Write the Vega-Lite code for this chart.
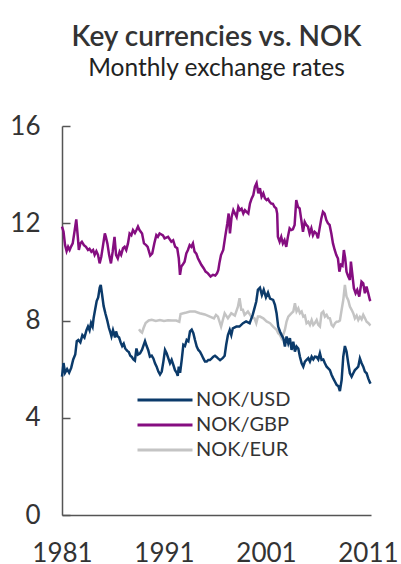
{
  "$schema": "https://vega.github.io/schema/vega-lite/v6.json",
  "width": 309,
  "height": 389,
  "autosize": "none",
  "padding": {"left": 62, "top": 126, "right": 30, "bottom": 49},
  "background": "white",
  "title": {
    "text": "Key currencies vs. NOK",
    "subtitle": "Monthly exchange rates",
    "anchor": "middle",
    "font": "Lato",
    "fontSize": 28,
    "fontWeight": 600,
    "color": "#333333",
    "subtitleFont": "Lato",
    "subtitleFontSize": 24.5,
    "subtitleFontWeight": "normal",
    "subtitleColor": "#222222",
    "subtitlePadding": 5,
    "offset": 33
  },
  "config": {
    "view": {"stroke": null},
    "axis": {
      "grid": false,
      "domainColor": "#555555",
      "domainWidth": 1.5,
      "labelFont": "Lato",
      "labelFontSize": 26,
      "labelColor": "#333333",
      "tickColor": "#555555",
      "tickWidth": 1.5
    }
  },
  "datasets": {
    "usd": [
      {"t":1981.00,"v":5.69},{"t":1981.15,"v":6.25},{"t":1981.30,"v":5.85},{"t":1981.50,"v":6.00},{"t":1981.70,"v":5.85},{"t":1981.90,"v":6.05},{"t":1982.10,"v":6.40},{"t":1982.30,"v":6.60},{"t":1982.45,"v":7.15},{"t":1982.60,"v":7.20},{"t":1982.80,"v":7.10},{"t":1983.00,"v":7.40},{"t":1983.20,"v":7.30},{"t":1983.40,"v":7.60},{"t":1983.55,"v":7.75},{"t":1983.70,"v":7.60},{"t":1983.85,"v":7.90},{"t":1984.00,"v":7.75},{"t":1984.10,"v":8.10},{"t":1984.25,"v":8.45},{"t":1984.40,"v":8.80},{"t":1984.55,"v":8.95},{"t":1984.70,"v":9.35},{"t":1984.80,"v":9.46},{"t":1984.92,"v":9.10},{"t":1985.08,"v":8.60},{"t":1985.25,"v":8.30},{"t":1985.44,"v":8.00},{"t":1985.60,"v":7.70},{"t":1985.75,"v":7.50},{"t":1985.85,"v":7.35},{"t":1986.00,"v":7.60},{"t":1986.10,"v":7.45},{"t":1986.20,"v":7.30},{"t":1986.30,"v":7.55},{"t":1986.45,"v":7.35},{"t":1986.60,"v":7.30},{"t":1986.75,"v":7.10},{"t":1986.90,"v":6.95},{"t":1987.05,"v":7.05},{"t":1987.20,"v":6.85},{"t":1987.40,"v":6.75},{"t":1987.55,"v":6.70},{"t":1987.70,"v":6.55},{"t":1987.85,"v":6.50},{"t":1988.00,"v":6.40},{"t":1988.15,"v":6.35},{"t":1988.30,"v":6.85},{"t":1988.45,"v":6.60},{"t":1988.65,"v":6.65},{"t":1988.85,"v":6.80},{"t":1989.14,"v":7.15},{"t":1989.30,"v":6.95},{"t":1989.45,"v":6.79},{"t":1989.62,"v":6.51},{"t":1989.80,"v":6.55},{"t":1989.96,"v":6.44},{"t":1990.12,"v":6.24},{"t":1990.28,"v":6.10},{"t":1990.45,"v":5.90},{"t":1990.61,"v":5.78},{"t":1990.78,"v":5.90},{"t":1990.94,"v":6.31},{"t":1991.10,"v":6.79},{"t":1991.26,"v":6.65},{"t":1991.43,"v":6.44},{"t":1991.59,"v":6.24},{"t":1991.75,"v":6.38},{"t":1991.92,"v":6.17},{"t":1992.08,"v":5.96},{"t":1992.25,"v":5.85},{"t":1992.35,"v":5.72},{"t":1992.45,"v":6.10},{"t":1992.58,"v":5.85},{"t":1992.74,"v":6.38},{"t":1992.90,"v":7.00},{"t":1993.06,"v":6.95},{"t":1993.23,"v":7.20},{"t":1993.39,"v":7.15},{"t":1993.55,"v":7.55},{"t":1993.72,"v":7.62},{"t":1993.88,"v":7.48},{"t":1994.04,"v":7.20},{"t":1994.21,"v":6.93},{"t":1994.37,"v":6.79},{"t":1994.53,"v":6.72},{"t":1994.70,"v":6.58},{"t":1994.86,"v":6.44},{"t":1995.02,"v":6.31},{"t":1995.19,"v":6.31},{"t":1995.35,"v":6.38},{"t":1995.51,"v":6.38},{"t":1995.68,"v":6.44},{"t":1995.84,"v":6.51},{"t":1996.00,"v":6.55},{"t":1996.15,"v":6.50},{"t":1996.30,"v":6.44},{"t":1996.50,"v":6.37},{"t":1996.75,"v":6.45},{"t":1996.95,"v":6.55},{"t":1997.10,"v":7.00},{"t":1997.27,"v":7.40},{"t":1997.45,"v":7.61},{"t":1997.60,"v":7.40},{"t":1997.75,"v":7.68},{"t":1998.10,"v":7.75},{"t":1998.40,"v":7.75},{"t":1998.75,"v":7.89},{"t":1999.05,"v":7.96},{"t":1999.40,"v":7.89},{"t":1999.70,"v":8.23},{"t":2000.05,"v":8.78},{"t":2000.21,"v":9.26},{"t":2000.41,"v":9.35},{"t":2000.60,"v":9.05},{"t":2000.78,"v":9.26},{"t":2001.00,"v":8.95},{"t":2001.20,"v":9.15},{"t":2001.40,"v":8.90},{"t":2001.70,"v":8.85},{"t":2001.88,"v":8.64},{"t":2002.04,"v":8.30},{"t":2002.20,"v":7.75},{"t":2002.37,"v":7.55},{"t":2002.53,"v":7.41},{"t":2002.70,"v":7.27},{"t":2002.86,"v":6.93},{"t":2003.02,"v":7.34},{"t":2003.19,"v":7.06},{"t":2003.35,"v":7.27},{"t":2003.51,"v":6.79},{"t":2003.68,"v":7.13},{"t":2003.84,"v":6.72},{"t":2004.00,"v":6.93},{"t":2004.17,"v":6.85},{"t":2004.33,"v":6.51},{"t":2004.50,"v":6.24},{"t":2004.66,"v":6.10},{"t":2004.82,"v":6.31},{"t":2004.98,"v":6.38},{"t":2005.15,"v":6.45},{"t":2005.31,"v":6.31},{"t":2005.48,"v":6.51},{"t":2005.64,"v":6.40},{"t":2005.80,"v":6.51},{"t":2005.97,"v":6.50},{"t":2006.13,"v":6.40},{"t":2006.29,"v":6.65},{"t":2006.45,"v":6.38},{"t":2006.62,"v":6.40},{"t":2006.78,"v":6.24},{"t":2006.95,"v":6.10},{"t":2007.11,"v":6.03},{"t":2007.27,"v":5.96},{"t":2007.44,"v":5.76},{"t":2007.60,"v":5.62},{"t":2007.77,"v":5.48},{"t":2007.93,"v":5.35},{"t":2008.10,"v":5.30},{"t":2008.25,"v":5.10},{"t":2008.42,"v":5.55},{"t":2008.58,"v":6.51},{"t":2008.74,"v":6.95},{"t":2008.90,"v":6.72},{"t":2009.07,"v":6.24},{"t":2009.23,"v":5.83},{"t":2009.40,"v":5.69},{"t":2009.56,"v":5.83},{"t":2009.72,"v":5.96},{"t":2009.89,"v":6.03},{"t":2010.05,"v":6.10},{"t":2010.21,"v":6.44},{"t":2010.38,"v":6.24},{"t":2010.54,"v":6.10},{"t":2010.70,"v":5.90},{"t":2010.87,"v":5.83},{"t":2011.03,"v":5.62},{"t":2011.19,"v":5.45},{"t":2011.26,"v":5.40}
    ],
    "gbp": [
      {"t":1981.00,"v":11.86},{"t":1981.15,"v":11.65},{"t":1981.30,"v":11.10},{"t":1981.45,"v":10.85},{"t":1981.60,"v":11.03},{"t":1981.75,"v":10.90},{"t":1981.90,"v":11.05},{"t":1982.05,"v":11.17},{"t":1982.25,"v":11.72},{"t":1982.40,"v":12.16},{"t":1982.55,"v":11.44},{"t":1982.65,"v":10.90},{"t":1982.80,"v":11.17},{"t":1982.95,"v":11.24},{"t":1983.15,"v":11.10},{"t":1983.35,"v":11.03},{"t":1983.55,"v":10.90},{"t":1983.70,"v":10.95},{"t":1983.88,"v":10.83},{"t":1984.05,"v":10.90},{"t":1984.20,"v":10.70},{"t":1984.37,"v":10.85},{"t":1984.53,"v":10.70},{"t":1984.69,"v":10.35},{"t":1984.85,"v":10.62},{"t":1985.00,"v":11.03},{"t":1985.20,"v":11.58},{"t":1985.30,"v":11.44},{"t":1985.45,"v":11.17},{"t":1985.62,"v":10.70},{"t":1985.80,"v":10.35},{"t":1985.97,"v":10.83},{"t":1986.15,"v":11.44},{"t":1986.30,"v":10.70},{"t":1986.47,"v":10.55},{"t":1986.65,"v":10.83},{"t":1986.80,"v":10.70},{"t":1986.98,"v":10.97},{"t":1987.14,"v":11.03},{"t":1987.30,"v":10.90},{"t":1987.47,"v":11.17},{"t":1987.63,"v":11.58},{"t":1987.80,"v":11.51},{"t":1987.96,"v":11.72},{"t":1988.15,"v":11.60},{"t":1988.30,"v":11.72},{"t":1988.45,"v":11.86},{"t":1988.60,"v":11.72},{"t":1988.85,"v":11.58},{"t":1989.04,"v":11.17},{"t":1989.25,"v":11.10},{"t":1989.40,"v":11.03},{"t":1989.65,"v":10.67},{"t":1989.85,"v":10.76},{"t":1990.05,"v":11.17},{"t":1990.25,"v":11.51},{"t":1990.40,"v":11.44},{"t":1990.57,"v":11.58},{"t":1990.90,"v":11.50},{"t":1991.06,"v":11.38},{"t":1991.40,"v":11.44},{"t":1991.72,"v":11.24},{"t":1991.90,"v":11.30},{"t":1992.10,"v":11.03},{"t":1992.30,"v":10.97},{"t":1992.45,"v":10.56},{"t":1992.57,"v":9.88},{"t":1992.70,"v":10.22},{"t":1992.83,"v":10.29},{"t":1993.02,"v":10.42},{"t":1993.19,"v":10.76},{"t":1993.35,"v":10.90},{"t":1993.52,"v":11.10},{"t":1993.68,"v":11.03},{"t":1993.84,"v":11.17},{"t":1994.00,"v":10.83},{"t":1994.17,"v":10.75},{"t":1994.33,"v":10.56},{"t":1994.50,"v":10.42},{"t":1994.66,"v":10.29},{"t":1994.89,"v":10.15},{"t":1995.08,"v":10.01},{"t":1995.31,"v":9.94},{"t":1995.57,"v":9.81},{"t":1995.80,"v":9.88},{"t":1996.03,"v":9.85},{"t":1996.20,"v":9.94},{"t":1996.33,"v":10.08},{"t":1996.43,"v":10.35},{"t":1996.59,"v":10.69},{"t":1996.81,"v":10.90},{"t":1997.00,"v":11.44},{"t":1997.21,"v":11.99},{"t":1997.34,"v":12.40},{"t":1997.47,"v":11.58},{"t":1997.63,"v":12.26},{"t":1997.80,"v":12.54},{"t":1997.96,"v":12.40},{"t":1998.12,"v":12.26},{"t":1998.29,"v":12.67},{"t":1998.45,"v":12.54},{"t":1998.61,"v":12.60},{"t":1998.78,"v":12.40},{"t":1998.94,"v":12.54},{"t":1999.10,"v":12.47},{"t":1999.27,"v":12.40},{"t":1999.43,"v":12.81},{"t":1999.60,"v":13.02},{"t":1999.76,"v":13.16},{"t":1999.92,"v":13.51},{"t":2000.08,"v":13.65},{"t":2000.25,"v":13.23},{"t":2000.41,"v":13.44},{"t":2000.57,"v":13.09},{"t":2000.74,"v":13.23},{"t":2000.90,"v":13.02},{"t":2001.06,"v":12.95},{"t":2001.20,"v":13.00},{"t":2001.36,"v":12.88},{"t":2001.52,"v":12.81},{"t":2001.68,"v":12.80},{"t":2001.84,"v":12.67},{"t":2002.00,"v":12.61},{"t":2002.10,"v":12.40},{"t":2002.17,"v":11.44},{"t":2002.34,"v":11.24},{"t":2002.50,"v":11.44},{"t":2002.66,"v":11.17},{"t":2002.82,"v":11.30},{"t":2002.99,"v":11.03},{"t":2003.15,"v":11.44},{"t":2003.32,"v":11.79},{"t":2003.48,"v":11.72},{"t":2003.64,"v":11.75},{"t":2003.81,"v":11.93},{"t":2003.97,"v":12.95},{"t":2004.14,"v":12.67},{"t":2004.30,"v":12.61},{"t":2004.47,"v":12.13},{"t":2004.63,"v":11.65},{"t":2004.80,"v":12.06},{"t":2004.96,"v":11.93},{"t":2005.12,"v":11.86},{"t":2005.28,"v":11.58},{"t":2005.45,"v":11.79},{"t":2005.61,"v":11.51},{"t":2005.77,"v":11.65},{"t":2005.94,"v":11.58},{"t":2006.10,"v":11.38},{"t":2006.26,"v":11.79},{"t":2006.43,"v":12.20},{"t":2006.59,"v":12.47},{"t":2006.75,"v":12.40},{"t":2006.92,"v":12.13},{"t":2007.08,"v":12.00},{"t":2007.24,"v":11.93},{"t":2007.41,"v":11.58},{"t":2007.57,"v":11.17},{"t":2007.74,"v":10.90},{"t":2007.90,"v":10.69},{"t":2008.06,"v":10.55},{"t":2008.20,"v":10.01},{"t":2008.35,"v":10.29},{"t":2008.50,"v":10.25},{"t":2008.64,"v":10.90},{"t":2008.77,"v":10.56},{"t":2008.90,"v":10.01},{"t":2009.07,"v":9.81},{"t":2009.23,"v":9.67},{"t":2009.33,"v":10.42},{"t":2009.46,"v":9.94},{"t":2009.62,"v":9.33},{"t":2009.79,"v":9.12},{"t":2009.95,"v":9.26},{"t":2010.15,"v":8.98},{"t":2010.37,"v":9.60},{"t":2010.54,"v":9.53},{"t":2010.70,"v":9.12},{"t":2010.86,"v":9.40},{"t":2011.03,"v":9.12},{"t":2011.19,"v":8.84},{"t":2011.26,"v":8.80}
    ],
    "eur": [
      {"t":1988.55,"v":7.64},{"t":1988.70,"v":7.55},{"t":1988.85,"v":7.50},{"t":1989.00,"v":7.69},{"t":1989.20,"v":7.90},{"t":1989.50,"v":8.00},{"t":1989.80,"v":8.03},{"t":1990.20,"v":7.98},{"t":1990.60,"v":8.02},{"t":1991.00,"v":7.98},{"t":1991.40,"v":8.01},{"t":1991.80,"v":8.00},{"t":1992.20,"v":8.00},{"t":1992.50,"v":7.95},{"t":1992.63,"v":8.27},{"t":1992.90,"v":8.30},{"t":1993.20,"v":8.33},{"t":1993.55,"v":8.37},{"t":1994.04,"v":8.37},{"t":1994.50,"v":8.30},{"t":1995.00,"v":8.25},{"t":1995.50,"v":8.16},{"t":1995.90,"v":8.09},{"t":1996.10,"v":8.23},{"t":1996.29,"v":8.16},{"t":1996.60,"v":7.75},{"t":1996.95,"v":8.30},{"t":1997.27,"v":8.09},{"t":1997.60,"v":8.30},{"t":1997.95,"v":8.20},{"t":1998.25,"v":8.57},{"t":1998.41,"v":8.92},{"t":1998.58,"v":8.44},{"t":1998.74,"v":8.44},{"t":1998.90,"v":8.23},{"t":1999.23,"v":8.37},{"t":1999.56,"v":8.16},{"t":1999.88,"v":8.09},{"t":2000.05,"v":7.89},{"t":2000.21,"v":8.16},{"t":2000.41,"v":8.16},{"t":2000.74,"v":8.09},{"t":2001.06,"v":7.96},{"t":2001.40,"v":7.89},{"t":2001.70,"v":7.75},{"t":2002.04,"v":7.62},{"t":2002.20,"v":7.48},{"t":2002.37,"v":7.41},{"t":2002.53,"v":7.27},{"t":2002.70,"v":7.41},{"t":2002.86,"v":7.62},{"t":2003.02,"v":7.96},{"t":2003.19,"v":8.16},{"t":2003.35,"v":8.23},{"t":2003.51,"v":8.30},{"t":2003.68,"v":8.37},{"t":2003.84,"v":8.71},{"t":2004.00,"v":8.37},{"t":2004.17,"v":8.50},{"t":2004.33,"v":8.30},{"t":2004.50,"v":8.37},{"t":2004.66,"v":8.16},{"t":2004.82,"v":8.20},{"t":2004.98,"v":7.89},{"t":2005.15,"v":7.95},{"t":2005.31,"v":7.82},{"t":2005.48,"v":8.02},{"t":2005.64,"v":7.82},{"t":2005.80,"v":7.90},{"t":2005.97,"v":8.02},{"t":2006.13,"v":7.82},{"t":2006.29,"v":7.75},{"t":2006.45,"v":8.30},{"t":2006.62,"v":8.37},{"t":2006.78,"v":8.16},{"t":2006.95,"v":8.23},{"t":2007.11,"v":8.10},{"t":2007.27,"v":8.09},{"t":2007.44,"v":7.82},{"t":2007.60,"v":7.75},{"t":2007.77,"v":7.89},{"t":2007.93,"v":7.95},{"t":2008.10,"v":7.96},{"t":2008.25,"v":8.00},{"t":2008.42,"v":8.44},{"t":2008.58,"v":8.84},{"t":2008.74,"v":9.46},{"t":2008.90,"v":8.98},{"t":2009.07,"v":8.84},{"t":2009.23,"v":8.57},{"t":2009.40,"v":8.44},{"t":2009.56,"v":8.30},{"t":2009.72,"v":8.09},{"t":2009.89,"v":8.20},{"t":2010.05,"v":8.02},{"t":2010.21,"v":8.15},{"t":2010.38,"v":8.05},{"t":2010.54,"v":8.23},{"t":2010.70,"v":8.10},{"t":2010.87,"v":7.95},{"t":2011.03,"v":7.90},{"t":2011.19,"v":7.82},{"t":2011.26,"v":7.80}
    ]
  },
  "layer": [
    {
      "data": {"name": "eur"},
      "mark": {"type": "line", "strokeWidth": 2.5},
      "encoding": {
        "x": {"field": "t", "type": "quantitative"},
        "y": {"field": "v", "type": "quantitative"},
        "color": {"datum": "NOK/EUR", "type": "nominal"}
      }
    },
    {
      "data": {"name": "gbp"},
      "mark": {"type": "line", "strokeWidth": 2.5},
      "encoding": {
        "x": {"field": "t", "type": "quantitative"},
        "y": {"field": "v", "type": "quantitative"},
        "color": {"datum": "NOK/GBP", "type": "nominal"}
      }
    },
    {
      "data": {"name": "usd"},
      "mark": {"type": "line", "strokeWidth": 2.5},
      "encoding": {
        "x": {
          "field": "t", "type": "quantitative",
          "scale": {"domain": [1981, 2011.3], "nice": false, "zero": false},
          "axis": {"values": [1981, 1991, 2001, 2011], "format": "d", "ticks": false, "labelPadding": 25, "title": null, "labelFlush": false, "labelOverlap": false}
        },
        "y": {
          "field": "v", "type": "quantitative",
          "scale": {"domain": [0, 16], "nice": false},
          "axis": {"values": [0, 4, 8, 12, 16], "tickSize": -8, "labelPadding": 30, "title": null}
        },
        "color": {
          "datum": "NOK/USD", "type": "nominal",
          "scale": {"domain": ["NOK/USD", "NOK/GBP", "NOK/EUR"], "range": ["#0b3a6a", "#850d80", "#c4c4c4"]},
          "legend": {
            "orient": "none", "legendX": 93, "legendY": 264, "title": null,
            "symbolType": "M-5,0H5", "symbolSize": 121, "symbolStrokeWidth": 3,
            "rowPadding": 5,
            "labelFont": "Lato", "labelFontSize": 20, "labelColor": "#333333", "labelOffset": 21
          }
        }
      }
    }
  ]
}
